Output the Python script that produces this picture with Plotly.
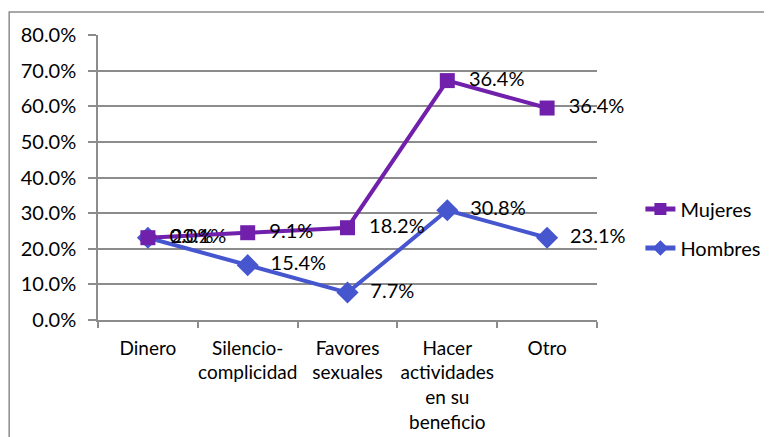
import numpy as np
import plotly.graph_objects as go

categories = ["Dinero", "Silencio-<br>complicidad", "Favores<br>sexuales",
              "Hacer<br>actividades<br>en su<br>beneficio", "Otro"]
hombres = [0.231, 0.154, 0.077, 0.308, 0.231]
mujeres = [0.000, 0.091, 0.182, 0.364, 0.364]

# Stacked line chart: Mujeres stacked on top of Hombres
mujeres_stacked = (np.array(hombres) + np.array(mujeres)).tolist()

FONT = "Lato"
GRID = "#8c8c8c"
PURPLE = "#7120AB"
BLUE = "#4656CF"
PAD = "\u2002\u200a"

fig = go.Figure()
fig.add_trace(go.Scatter(
    x=categories, y=hombres, name="Hombres", mode="lines+markers+text",
    line=dict(color=BLUE, width=4),
    marker=dict(symbol="diamond", size=17, color=BLUE),
    text=[PAD + f"{v*100:.1f}%" for v in hombres],
    textposition="middle right",
    textfont=dict(family=FONT, size=20, color="#000"),
    legendrank=2, legendgroup="h", cliponaxis=False,
))
fig.add_trace(go.Scatter(
    x=categories, y=mujeres_stacked, name="Mujeres", mode="lines+markers+text",
    line=dict(color=PURPLE, width=4),
    marker=dict(symbol="square", size=15, color=PURPLE),
    text=[PAD + f"{v*100:.1f}%" for v in mujeres],
    textposition="middle right",
    textfont=dict(family=FONT, size=20, color="#000"),
    legendrank=1, legendgroup="m", cliponaxis=False,
))

fig.update_layout(
    width=764, height=429,
    margin=dict(l=90, r=175, t=27, b=117, autoexpand=False),
    paper_bgcolor="white", plot_bgcolor="white",
    font=dict(family=FONT, size=19, color="#000"),
    showlegend=True,
    legend=dict(x=1.087, y=0.321, xanchor="left", yanchor="middle",
                traceorder="grouped", tracegroupgap=10, itemsizing="constant",
                font=dict(family=FONT, size=20, color="#000"),
                bgcolor="rgba(0,0,0,0)"),
    xaxis=dict(
        range=[-0.5, len(categories) - 0.5], tickangle=0,
        showgrid=False, showline=True, linecolor=GRID, linewidth=1.5,
        ticks="outside", tickson="boundaries", ticklen=6, tickcolor=GRID,
        tickwidth=1.5, ticklabelstandoff=10, automargin=False,
        tickfont=dict(family=FONT, size=19, color="#000"),
    ),
    yaxis=dict(
        range=[0, 0.8], dtick=0.1, tickformat=".1%",
        showgrid=True, gridcolor=GRID, gridwidth=1.5,
        showline=True, linecolor=GRID, linewidth=1.5,
        ticks="outside", ticklen=8, tickcolor=GRID, tickwidth=1.5,
        zeroline=False, automargin=False, ticklabelstandoff=8,
        tickfont=dict(family=FONT, size=20, color="#000"),
    ),
    shapes=[dict(type="rect", xref="paper", yref="paper",
                 x0=-0.178, x1=1.4, y0=-0.5, y1=1.081,
                 line=dict(color="#8c8c8c", width=1.5), layer="below")],
)

fig.write_html("out.html")
